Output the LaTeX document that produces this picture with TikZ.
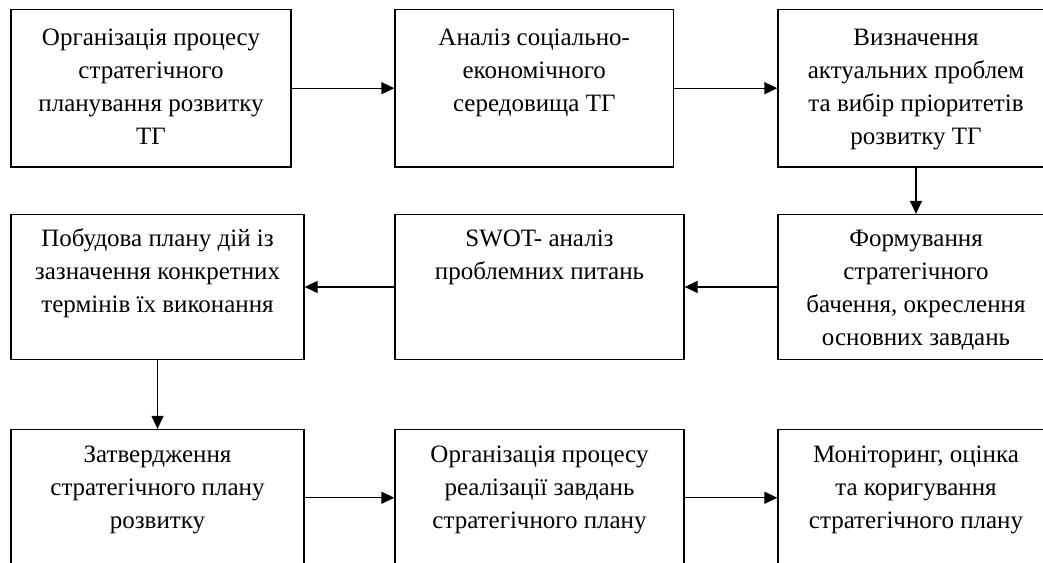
\documentclass[tikz,border=0pt]{standalone}
\usepackage{fontspec}
\setmainfont{Liberation Serif}
\usetikzlibrary{arrows.meta}
\newcommand{\firstln}{\rule{0pt}{25pt}}
\begin{document}
\begin{tikzpicture}[x=1pt,y=1pt,
  box/.style={draw, line width=1.3pt, rectangle, inner sep=0pt},
  txt/.style={anchor=north, align=center, inner sep=0pt,
    font=\fontsize{25}{33}\selectfont},
  arr/.style={line width=1.3pt, -{Triangle[length=13pt,width=12pt]}}]
\useasboundingbox (0,0) rectangle (1043,-562);
\fill[white] (0,0) rectangle (1043,-562);
\clip (0,0) rectangle (1043,-562);

% row 1
\node[box, minimum width=280pt, minimum height=157.7pt] (A) at (151,-88.2) {};
\node[box, minimum width=278.5pt, minimum height=157.7pt] (B) at (534.25,-88.2) {};
\node[box, minimum width=276pt, minimum height=157.7pt] (C) at (916,-88.2) {};
% row 2
\node[box, minimum width=276pt, minimum height=145pt] (D) at (916,-287) {};
\node[box, minimum width=289pt, minimum height=145pt] (E) at (539.5,-287) {};
\node[box, minimum width=293pt, minimum height=145pt] (F) at (157.5,-287) {};
% row 3
\node[box, minimum width=293pt, minimum height=136.5pt] (G) at (157.5,-497.75) {};
\node[box, minimum width=289pt, minimum height=136.5pt] (H) at (539.5,-497.75) {};
\node[box, minimum width=276pt, minimum height=136.5pt] (I) at (916,-497.75) {};

% texts
\node[txt] (At) at ([yshift=-12pt]A.north) {\firstln Організація процесу\\стратегічного\\планування розвитку\\ТГ};
\node[txt] (Bt) at ([yshift=-12pt]B.north) {\firstln Аналіз соціально-\\економічного\\середовища ТГ};
\node[txt] (Ct) at ([yshift=-12pt]C.north) {\firstln Визначення\\актуальних проблем\\та вибір пріоритетів\\розвитку ТГ};
\node[txt] (Dt) at ([yshift=-7.5pt]D.north) {\firstln Формування\\стратегічного\\бачення, окреслення\\основних завдань};
\node[txt] (Et) at ([yshift=-7.5pt]E.north) {\firstln SWOT- аналіз\\проблемних питань};
\node[txt] (Ft) at ([yshift=-7.5pt]F.north) {\firstln Побудова плану дій із\\зазначення конкретних\\термінів їх виконання};
\node[txt] (Gt) at ([yshift=-8pt]G.north) {\firstln Затвердження\\стратегічного плану\\розвитку};
\node[txt] (Ht) at ([yshift=-8pt]H.north) {\firstln Організація процесу\\реалізації завдань\\стратегічного плану};
\node[txt] (It) at ([yshift=-8pt]I.north) {\firstln Моніторинг, оцінка\\та коригування\\стратегічного плану};

% connectors
\draw[arr] (A) -- (B);
\draw[arr] (B) -- (C);
\draw[arr] (C) -- (D);
\draw[arr] (D) -- (E);
\draw[arr] (E) -- (F);
\draw[arr] (F) -- (G);
\draw[arr] (G) -- (H);
\draw[arr] (H) -- (I);
\end{tikzpicture}
\end{document}
